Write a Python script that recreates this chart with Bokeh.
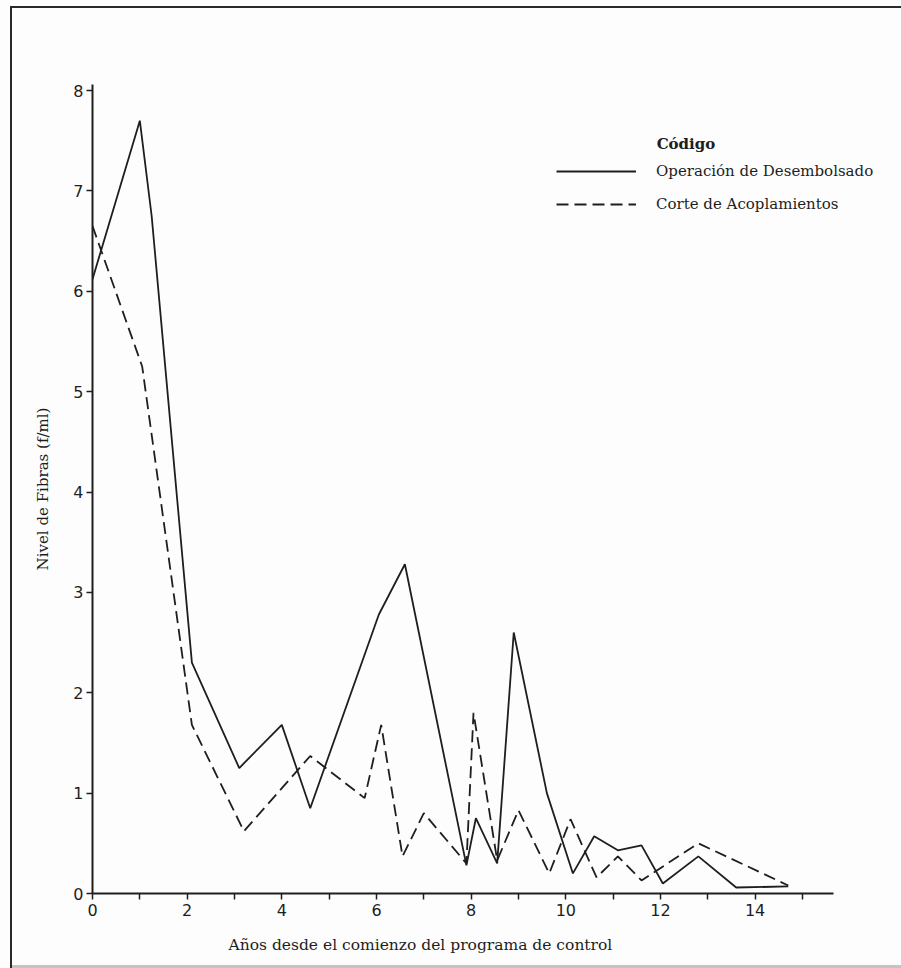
from bokeh.plotting import figure
from bokeh.models import (Range1d, FixedTicker, Legend, LegendItem, Label,
                          Title, ColumnDataSource)
from bokeh.embed import file_html
from bokeh.resources import INLINE

# ---- data ----
desemb_x = [0, 1.0, 1.25, 2.1, 3.1, 4.0, 4.6, 6.05, 6.6, 7.9, 8.1, 8.55, 8.9,
            9.6, 10.15, 10.6, 11.1, 11.6, 12.05, 12.8, 13.6, 14.7]
desemb_y = [6.12, 7.7, 6.75, 2.3, 1.25, 1.68, 0.85, 2.78, 3.28, 0.28, 0.75, 0.3,
            2.6, 1.0, 0.2, 0.57, 0.43, 0.48, 0.1, 0.37, 0.06, 0.07]

corte_x = [0, 1.05, 2.1, 3.2, 4.6, 5.75, 6.1, 6.55, 7.0, 7.9, 8.05, 8.55, 9.0,
           9.65, 10.1, 10.65, 11.1, 11.6, 12.8, 14.7]
corte_y = [6.65, 5.25, 1.68, 0.62, 1.37, 0.95, 1.68, 0.37, 0.8, 0.3, 1.8, 0.33,
           0.83, 0.2, 0.74, 0.16, 0.37, 0.13, 0.5, 0.08]

x_major_ticks = [0, 2, 4, 6, 8, 10, 12, 14]
x_minor_ticks = [1, 3, 5, 7, 9, 11, 13, 15]
y_ticks = [0, 1, 2, 3, 4, 5, 6, 7, 8]

series_names = ["Operación de Desembolsado", "Corte de Acoplamientos"]
legend_title = "Código"
x_label = "Años desde el comienzo del programa de control"
y_label = "Nivel de Fibras (f/ml)"

INK = "#1e1e1e"
PAPER = "#fdfdfd"
SERIF = "DejaVu Serif"
SANS = "DejaVu Sans"

p = figure(width=901, height=968,
           x_range=Range1d(0, 16.67), y_range=Range1d(0, 8.06),
           output_backend="svg", toolbar_location=None,
           min_border_left=92, min_border_right=20,
           min_border_top=84, min_border_bottom=75)

# page frame (scanned-page border): dark left/top edges, faint bottom edge
p.styles = {
    "background-color": PAPER,
    "box-shadow": ("inset 10px 6px 0 0 %s, inset 12px 8px 0 0 #2a2a2a, "
                   "inset 0 -3px 0 0 #c4c4c4") % PAPER,
}

p.background_fill_color = PAPER
p.border_fill_color = None
p.outline_line_color = None
p.grid.visible = False

# axes
for ax in (p.xaxis, p.yaxis):
    ax.axis_line_color = INK
    ax.axis_line_width = 2
    ax.major_tick_line_color = INK
    ax.major_tick_line_width = 1.5
    ax.minor_tick_line_color = INK
    ax.minor_tick_line_width = 1.5
    ax.major_tick_in = 0
    ax.major_tick_out = 6
    ax.minor_tick_in = 0
    ax.minor_tick_out = 6
    ax.major_label_text_font = SANS
    ax.major_label_text_font_size = "16px"
    ax.major_label_text_color = INK

p.xaxis.bounds = (0, 15.65)
p.yaxis.bounds = (0, 8.06)
p.xaxis.ticker = FixedTicker(ticks=x_major_ticks, minor_ticks=x_minor_ticks)
p.yaxis.ticker = FixedTicker(ticks=y_ticks, minor_ticks=[])
p.xaxis.major_label_standoff = 4
p.yaxis.major_label_standoff = 3

p.yaxis.axis_label = y_label
p.yaxis.axis_label_text_font = SERIF
p.yaxis.axis_label_text_font_style = "normal"
p.yaxis.axis_label_text_font_size = "15px"
p.yaxis.axis_label_text_color = INK
p.yaxis.axis_label_standoff = 18

xt = Title(text=x_label, align="left", offset=136, text_font=SERIF,
           text_font_style="normal", text_font_size="15.5px", text_color=INK,
           standoff=30)
p.add_layout(xt, "below")

# lines
src1 = ColumnDataSource(dict(x=desemb_x, y=desemb_y))
src2 = ColumnDataSource(dict(x=corte_x, y=corte_y))
r1 = p.line("x", "y", source=src1, line_color=INK, line_width=1.8)
r2 = p.line("x", "y", source=src2, line_color=INK, line_width=1.8,
            line_dash="12 6")

legend = Legend(items=[LegendItem(label=series_names[0], renderers=[r1]),
                       LegendItem(label=series_names[1], renderers=[r2])],
                location=(464, 679), orientation="vertical",
                glyph_width=80, glyph_height=20, label_height=20,
                label_standoff=20, spacing=13, padding=0, margin=0,
                border_line_color=None, background_fill_alpha=0,
                label_text_font=SERIF, label_text_font_size="15px",
                label_text_color=INK)
p.add_layout(legend, "center")

p.add_layout(Label(x=11.92, y=7.47, text=legend_title, text_font=SERIF,
                   text_font_style="bold", text_font_size="15px",
                   text_color=INK, text_baseline="middle"))

open("out.html", "w").write(file_html(p, INLINE))
